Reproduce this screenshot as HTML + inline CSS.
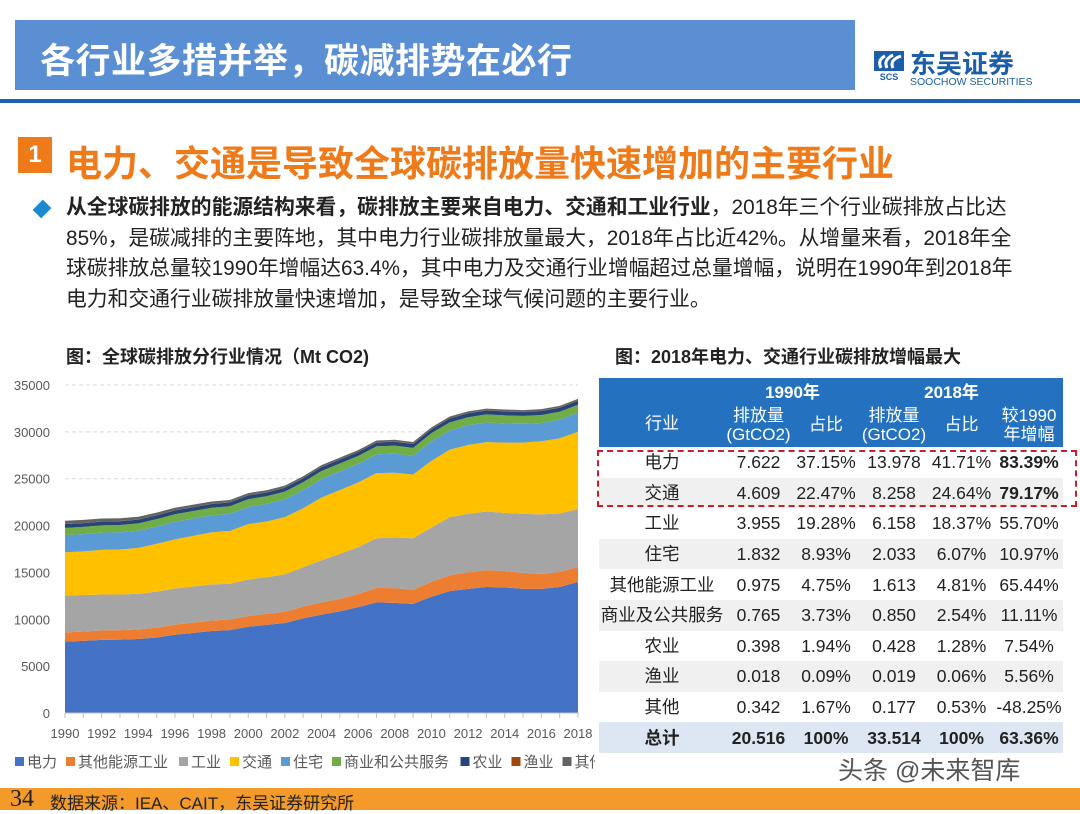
<!DOCTYPE html>
<html><head><meta charset="utf-8">
<style>
*{margin:0;padding:0;box-sizing:border-box}
body{width:1080px;height:810px;background:#fff;position:relative;overflow:hidden;font-family:"Liberation Sans","Noto Sans CJK SC",sans-serif;color:#222}
.abs{position:absolute}
table{border-collapse:collapse;table-layout:fixed}
td{text-align:center;font-size:17.5px;height:30.6px;padding:0;white-space:nowrap;line-height:18px}
tr.g td{background:#f0f0f0}
th{background:#2472bf;color:#fff;font-weight:normal;font-size:17px;line-height:19px}
</style></head><body>
<div class="abs" style="left:15px;top:20px;width:840px;height:70px;background:#5b8fd4"></div>
<div class="abs" style="left:40px;top:33px;font-size:35px;font-weight:bold;color:#fff;letter-spacing:0.5px">各行业多措并举，碳减排势在必行</div>
<div class="abs" style="left:873px;top:50px;width:160px;height:40px">
 <svg width="34" height="32" style="position:absolute;left:0;top:0"><rect x="1" y="1" width="30" height="20" fill="#1c5fa8"/><path d="M8 18 Q4 10 12 6 M14 18 Q10 10 20 5 M20 18 Q16 10 28 6" stroke="#fff" stroke-width="3" fill="none"/><text x="16" y="30" font-size="9" font-weight="bold" fill="#1c5fa8" text-anchor="middle" font-family="Liberation Sans">SCS</text></svg>
 <div class="abs" style="left:37px;top:0px;font-size:26px;font-weight:bold;color:#1c5fa8;line-height:28px">东吴证券</div>
 <div class="abs" style="left:37px;top:26px;font-size:10.5px;color:#1c5fa8;white-space:nowrap">SOOCHOW SECURITIES</div>
</div>
<div class="abs" style="left:0;top:99px;width:1080px;height:4px;background:#1f63b0"></div>
<div class="abs" style="left:18px;top:137px;width:34px;height:36px;background:#ee7a1a;color:#fff;font-size:24px;font-weight:bold;text-align:center;line-height:36px">1</div>
<div class="abs" style="left:66px;top:135px;font-size:36px;font-weight:bold;color:#ee7a1a;white-space:nowrap">电力、交通是导致全球碳排放量快速增加的主要行业</div>
<div class="abs" style="left:36px;top:203px;width:12px;height:12px;background:#1c8ad0;transform:rotate(45deg) scaleY(1.2)"></div>
<div class="abs" style="left:66px;top:193px;font-size:20.8px;line-height:30.5px;white-space:nowrap;color:#222">
<b>从全球碳排放的能源结构来看，碳排放主要来自电力、交通和工业行业</b>，2018年三个行业碳排放占比达<br>85%，是碳减排的主要阵地，其中电力行业碳排放量最大，2018年占比近42%。从增量来看，2018年全<br>球碳排放总量较1990年增幅达63.4%，其中电力及交通行业增幅超过总量增幅，说明在1990年到2018年<br>电力和交通行业碳排放量快速增加，是导致全球气候问题的主要行业。</div>
<div class="abs" style="left:66px;top:343px;font-size:18px;font-weight:bold">图：全球碳排放分行业情况（Mt CO2)</div>
<div class="abs" style="left:615px;top:343px;font-size:18px;font-weight:bold">图：2018年电力、交通行业碳排放增幅最大</div>

<svg id="chart" class="abs" style="left:0;top:370px" width="595" height="410"></svg>

<table class="abs" style="left:599px;top:378px;width:464px">
<colgroup><col style="width:126px"><col style="width:67px"><col style="width:68px"><col style="width:68px"><col style="width:67px"><col style="width:68px"></colgroup>
<tr style="height:24px"><th rowspan="2" style="padding-top:22px">行业</th><th colspan="2" style="font-weight:bold;font-size:17px;padding-top:4px">1990年</th><th colspan="3" style="font-weight:bold;font-size:17px;padding-top:4px;padding-right:20px">2018年</th></tr>
<tr style="height:45px"><th>排放量<br>(GtCO2)</th><th>占比</th><th>排放量<br>(GtCO2)</th><th>占比</th><th>较1990<br>年增幅</th></tr>
<tr><td>电力</td><td>7.622</td><td>37.15%</td><td>13.978</td><td>41.71%</td><td><b>83.39%</b></td></tr>
<tr class="g"><td>交通</td><td>4.609</td><td>22.47%</td><td>8.258</td><td>24.64%</td><td><b>79.17%</b></td></tr>
<tr><td>工业</td><td>3.955</td><td>19.28%</td><td>6.158</td><td>18.37%</td><td>55.70%</td></tr>
<tr class="g"><td>住宅</td><td>1.832</td><td>8.93%</td><td>2.033</td><td>6.07%</td><td>10.97%</td></tr>
<tr><td>其他能源工业</td><td>0.975</td><td>4.75%</td><td>1.613</td><td>4.81%</td><td>65.44%</td></tr>
<tr class="g"><td>商业及公共服务</td><td>0.765</td><td>3.73%</td><td>0.850</td><td>2.54%</td><td>11.11%</td></tr>
<tr><td>农业</td><td>0.398</td><td>1.94%</td><td>0.428</td><td>1.28%</td><td>7.54%</td></tr>
<tr class="g"><td>渔业</td><td>0.018</td><td>0.09%</td><td>0.019</td><td>0.06%</td><td>5.56%</td></tr>
<tr><td>其他</td><td>0.342</td><td>1.67%</td><td>0.177</td><td>0.53%</td><td>-48.25%</td></tr>
<tr style="background:#dce7f3"><td><b>总计</b></td><td><b>20.516</b></td><td><b>100%</b></td><td><b>33.514</b></td><td><b>100%</b></td><td><b>63.36%</b></td></tr>
</table>
<div class="abs" style="left:597px;top:450px;width:480px;height:57px;border:2.5px dashed #c8202a"></div>

<div class="abs" style="left:838px;top:756px;font-size:25px;line-height:30px;color:#555;white-space:nowrap">头条 @未来智库</div>
<div class="abs" style="left:0;top:788px;width:1080px;height:22px;background:#f39a2b"></div>
<div class="abs" style="left:10px;top:786px;font-size:24px;font-family:'Liberation Serif',serif;color:#222">34</div>
<div class="abs" style="left:50px;top:789px;font-size:17px;color:#222;white-space:nowrap">数据来源：IEA、CAIT，东吴证券研究所</div>

<script>
const years=[1990,1991,1992,1993,1994,1995,1996,1997,1998,1999,2000,2001,2002,2003,2004,2005,2006,2007,2008,2009,2010,2011,2012,2013,2014,2015,2016,2017,2018];
const seriesNames=["电力","其他能源工业","工业","交通","住宅","商业和公共服务","农业","渔业","其他"];
const electricity=[7620,7700,7800,7830,7900,8050,8350,8550,8750,8850,9200,9400,9600,10100,10500,10850,11300,11800,11750,11650,12400,13000,13250,13450,13400,13250,13250,13450,13978];
const otherEnergy=[975,990,1000,1010,1020,1050,1080,1100,1120,1130,1150,1180,1200,1250,1300,1330,1400,1550,1580,1500,1600,1700,1750,1800,1750,1700,1600,1600,1613];
const industry=[3955,3900,3850,3800,3800,3850,3850,3850,3850,3800,3900,3900,4000,4200,4500,4800,5000,5300,5400,5500,5800,6200,6250,6250,6200,6300,6350,6250,6158];
const transport=[4609,4650,4750,4800,4900,5100,5250,5400,5550,5650,5900,5950,6100,6300,6700,6800,6900,6950,6900,6800,7100,7200,7350,7400,7500,7600,7800,8000,8258];
const residential=[1832,1850,1850,1850,1830,1850,1880,1850,1830,1830,1850,1880,1900,1950,1980,2000,1980,2000,2050,2000,2100,2050,2100,2100,2050,2000,1950,2000,2033];
const commercial=[765,770,770,775,780,790,800,800,800,800,810,815,820,830,840,840,845,850,850,840,860,860,860,860,860,850,850,850,850];
const agriculture=[398,400,400,400,400,400,405,405,405,410,410,410,410,415,415,415,420,420,420,420,420,425,425,425,425,425,425,425,428];
const fishing=[18,18,18,18,18,18,18,18,18,18,18,18,18,18,18,18,18,18,18,18,19,19,19,19,19,19,19,19,19];
const others=[342,330,320,300,290,280,270,260,250,240,230,220,210,200,200,195,190,190,185,185,185,180,180,180,180,178,178,178,177];
const yTicks=[0,5000,10000,15000,20000,25000,30000,35000];
const xTickLabels=[1990,1992,1994,1996,1998,2000,2002,2004,2006,2008,2010,2012,2014,2016,2018];

const colors=["#4472c4","#ed7d31","#a5a5a5","#ffc000","#5b9bd5","#70ad47","#264478","#9e480e","#636363"];
const data=[electricity,otherEnergy,industry,transport,residential,commercial,agriculture,fishing,others];
const NS="http://www.w3.org/2000/svg";
const svg=document.getElementById('chart');
const X0=65,X1=578,Y0=343,Y1=15;
const xs=y=>X0+(y-years[0])/(years[years.length-1]-years[0])*(X1-X0);
const ys=v=>Y0-v/35000*(Y0-Y1);
function mk(tag,attrs){const e=document.createElementNS(NS,tag);for(const k in attrs)e.setAttribute(k,attrs[k]);svg.appendChild(e);return e;}
yTicks.forEach(t=>{
  if(t>0){const l=mk('line',{x1:X0,x2:X1,y1:ys(t),y2:ys(t),stroke:'#d9d9d9','stroke-dasharray':'4,3'});
  
  }
  const tx=mk('text',{x:50,y:ys(t)+5,'text-anchor':'end','font-size':13,fill:'#595959','font-family':'Liberation Sans'});
  tx.textContent=t;
  
  
});
let base=years.map(()=>0);
data.forEach((s,i)=>{
  const top=base.map((b,j)=>b+s[j]);
  let d='M'+years.map((y,j)=>xs(y)+','+ys(top[j])).join(' L');
  for(let j=years.length-1;j>=0;j--)d+=' L'+xs(years[j])+','+ys(base[j]);
  const p=mk('path',{d:d+'Z',fill:colors[i]});
  
  
  base=top;
});
const ax=mk('line',{x1:X0,x2:X1,y1:Y0,y2:Y0,stroke:'#bfbfbf'});


years.forEach(y=>{mk('line',{x1:xs(y),x2:xs(y),y1:Y0,y2:Y0+5,stroke:'#bfbfbf'});});
xTickLabels.forEach(y=>{
  const tx=mk('text',{x:xs(y),y:Y0+25,'text-anchor':'middle','font-size':13,fill:'#595959','font-family':'Liberation Sans'});
  tx.textContent=y;
  
  
});
let lx=15;
seriesNames.forEach((n,i)=>{
  const r=mk('rect',{x:lx,y:387,width:9,height:9,fill:colors[i]});
  
  
  const t=mk('text',{x:lx+12,y:397,'font-size':15,fill:'#595959','font-family':'Liberation Sans, Noto Sans CJK SC, sans-serif'});
  t.textContent=n;
  
  
  lx+=12+n.length*15.5+8;
});
</script>
</body></html>
